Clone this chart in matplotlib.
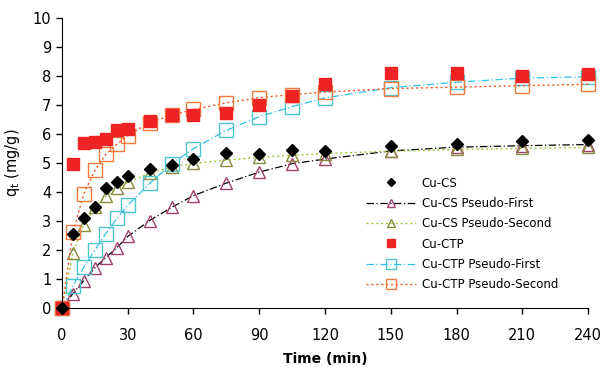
import matplotlib
matplotlib.use("Agg")
import matplotlib.pyplot as plt

t = [0, 5, 10, 15, 20, 25, 30, 40, 50, 60, 75, 90, 105, 120, 150, 180, 210, 240]

cs_exp = [0, 2.56, 3.09, 3.5, 4.15, 4.34, 4.57, 4.78, 4.95, 5.15, 5.35, 5.32, 5.44, 5.42, 5.58, 5.66, 5.76, 5.8]
cs_pfo = [0, 0.5, 0.95, 1.39, 1.74, 2.08, 2.47, 3.02, 3.47, 3.88, 4.31, 4.69, 4.98, 5.14, 5.42, 5.55, 5.6, 5.64]
cs_pso = [0, 1.9, 2.88, 3.47, 3.86, 4.13, 4.34, 4.65, 4.87, 4.99, 5.1, 5.2, 5.27, 5.33, 5.41, 5.47, 5.51, 5.54]

ctp_exp = [0, 4.97, 5.68, 5.72, 5.83, 6.13, 6.16, 6.46, 6.65, 6.67, 6.74, 7.0, 7.3, 7.72, 8.12, 8.1, 8.02, 8.06]
ctp_pfo = [0, 0.76, 1.42, 2.0, 2.57, 3.09, 3.54, 4.3, 4.97, 5.5, 6.13, 6.6, 6.95, 7.25, 7.6, 7.79, 7.93, 7.98]
ctp_pso = [0, 2.62, 3.95, 4.75, 5.3, 5.65, 5.95, 6.4, 6.65, 6.85, 7.08, 7.26, 7.36, 7.45, 7.57, 7.62, 7.67, 7.72]

plt.rcParams['font.family'] = 'DejaVu Sans'
fig = plt.figure(figsize=(6.04, 3.78), dpi=100)
ax = fig.add_axes([0.1026, 0.185, 0.871, 0.767])

ax.plot(t, cs_exp, linestyle='none', marker='D', ms=6.5, color='black', label='Cu-CS', clip_on=False, zorder=5)
ax.plot(t, cs_pfo, linestyle=(0, (6, 2, 1, 2)), lw=0.9, color='black', marker='^', ms=9,
        mfc='none', mec='#a2416f', mew=1.0, label='Cu-CS Pseudo-First', clip_on=False)
ax.plot(t, cs_pso, linestyle=(0, (1.5, 2)), lw=1.0, color='#9ccb3b', marker='^', ms=9,
        mfc='none', mec='#8a8a40', mew=1.0, label='Cu-CS Pseudo-Second', clip_on=False)
ax.plot(t, ctp_exp, linestyle='none', marker='s', ms=8, color='#ee2424', label='Cu-CTP', clip_on=False, zorder=4)
ax.plot(t, ctp_pfo, linestyle=(0, (6, 2, 1, 2)), lw=0.9, color='#2fc2ee', marker='s', ms=10,
        mfc='none', mec='#4cc4c8', mew=1.0, label='Cu-CTP Pseudo-First', clip_on=False)
ax.plot(t, ctp_pso, linestyle=(0, (1.5, 2)), lw=1.0, color='#f0561e', marker='s', ms=10,
        mfc='none', mec='#f07a3e', mew=1.0, label='Cu-CTP Pseudo-Second', clip_on=False)

ax.set_xlim(0, 240)
ax.set_ylim(0, 10)
ax.set_xticks(range(0, 241, 30))
ax.set_yticks(range(0, 11))
ax.spines['top'].set_visible(False)
ax.spines['right'].set_visible(False)
ax.tick_params(labelsize=10.5, length=4, width=1, color='black')
ax.tick_params(axis='x', pad=10)
ax.set_xlabel('Time (min)', fontsize=10, fontweight='bold', labelpad=7)
ax.set_ylabel(r'q$_\mathregular{t}$ (mg/g)', fontsize=10.5, labelpad=8)

ax.legend(loc='upper left', bbox_to_anchor=(0.558, 0.49), frameon=False, fontsize=8.5,
          handlelength=4.2, labelspacing=0.62, handletextpad=0.5, markerscale=0.65)

fig.savefig('out.png', dpi=100)
